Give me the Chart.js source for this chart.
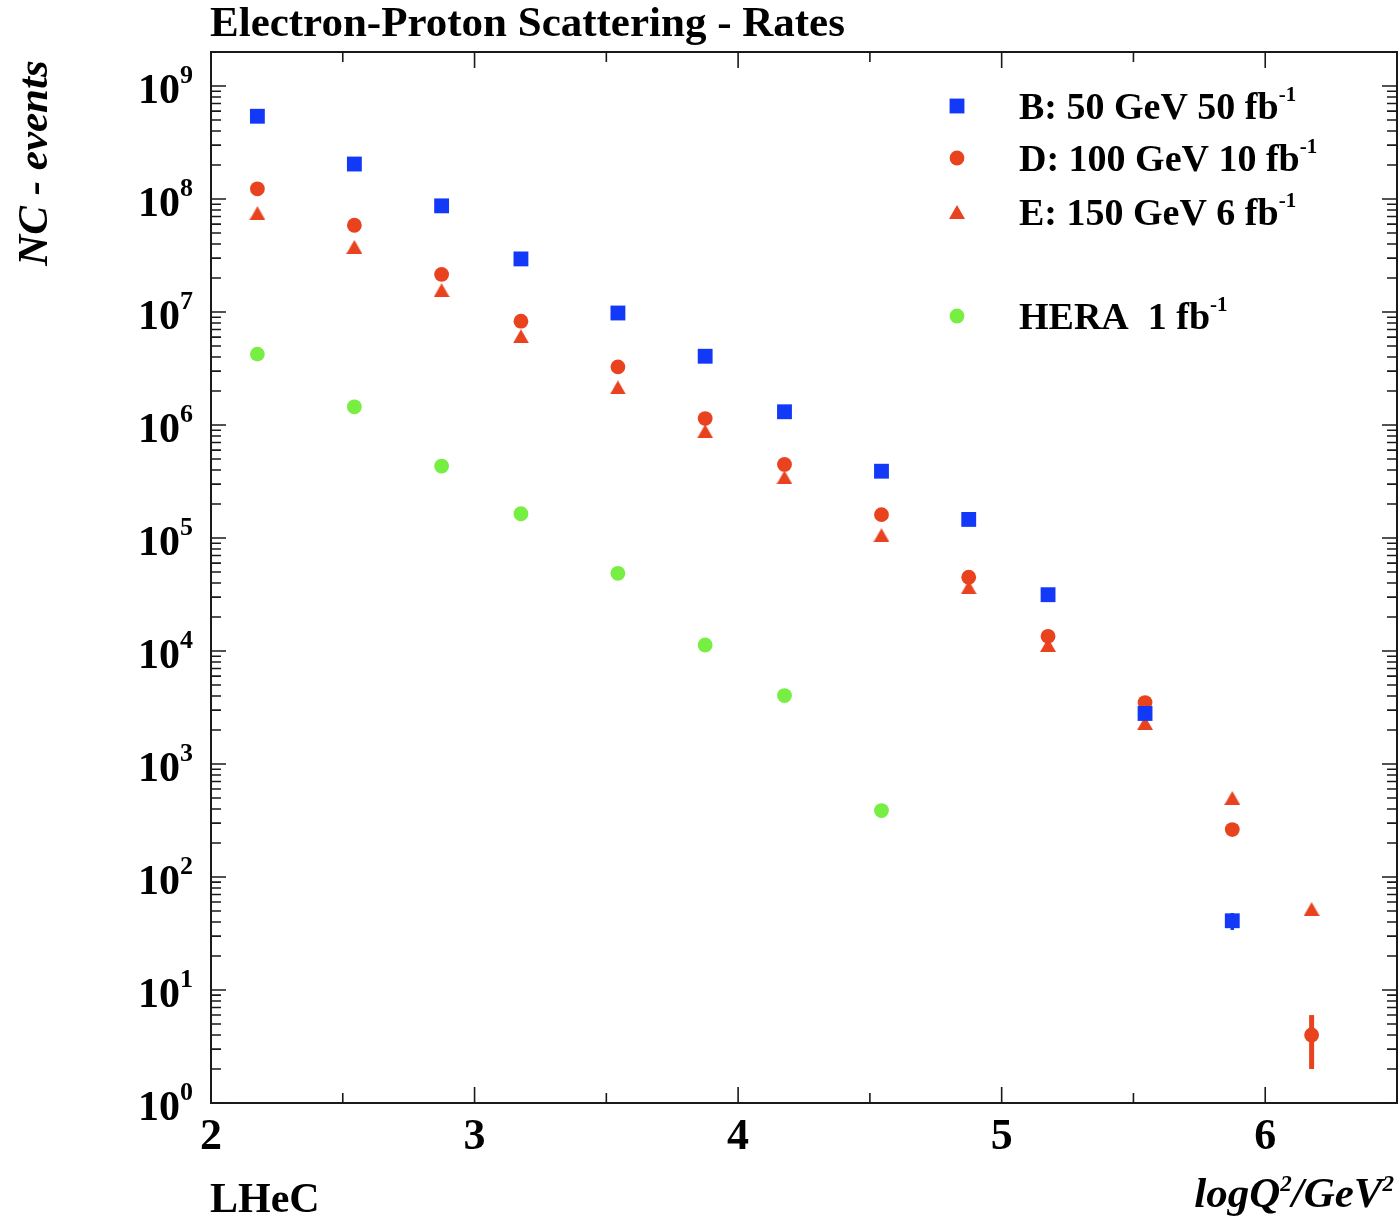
<!DOCTYPE html>
<html>
<head>
<meta charset="utf-8">
<title>Electron-Proton Scattering - Rates</title>
<script src="https://cdn.jsdelivr.net/npm/chart.js@4.4.1/dist/chart.umd.min.js"></script>
<style>
html,body{margin:0;padding:0;background:#fff;overflow:hidden;}
#wrap{width:1400px;height:1228px;position:relative;}
</style>
</head>
<body>
<div id="wrap"><canvas id="ratesChart"></canvas></div>
<script>

// DATA

const logQ2 = [2.176, 2.544, 2.875, 3.176, 3.544, 3.875, 4.176, 4.544, 4.875, 5.176, 5.544, 5.875, 6.176];

const eventsB = [5.4e8, 2.04e8, 8.7e7, 2.95e7, 9.8e6, 4.06e6, 1.31e6, 3.9e5, 1.46e5, 3.15e4, 2.8e3, 41, null];
const eventsD = [1.23e8, 5.86e7, 2.15e7, 8.3e6, 3.27e6, 1.14e6, 4.48e5, 1.61e5, 4.5e4, 1.35e4, 3.5e3, 263, 4];
const eventsE = [7.5e7, 3.77e7, 1.56e7, 6.1e6, 2.15e6, 8.8e5, 3.44e5, 1.06e5, 3.66e4, 1.13e4, 2.3e3, 500, 52];
const eventsHERA = [4.24e6, 1.45e6, 4.33e5, 1.64e5, 4.87e4, 1.13e4, 4.03e3, 387, null, null, null, null, null];

// visible error bars only
const errB = [0, 0, 0, 0, 0, 0, 0, 0, 0, 0, 0, 7, 0];
const errD = [0, 0, 0, 0, 0, 0, 0, 0, 0, 0, 0, 0, 2];

const seriesNames = ["B: 50 GeV 50 fb", "D: 100 GeV 10 fb", "E: 150 GeV 6 fb", "HERA  1 fb"];
const seriesSup = ["-1", "-1", "-1", "-1"];

const xMajorTicks = [2, 3, 4, 5, 6];
const xMinorTicks = [2.5, 3.5, 4.5, 5.5];
const yDecades = [0, 1, 2, 3, 4, 5, 6, 7, 8, 9];

const BLUE = "#1238f8";
const RED = "#e8421f";
const GREEN = "#76ee42";
const serif = '"Liberation Serif", "Times New Roman", serif';


function toPoints(vals){
return logQ2.map((x,i)=>({x:x, y:vals[i]})).filter(p=>p.y!==null);
}

function makeTriangle(color){
const c = document.createElement("canvas");
c.width = 16;
c.height = 14;
const g = c.getContext("2d");
g.fillStyle = color;
g.beginPath();
g.moveTo(8,0);
g.lineTo(16,14);
g.lineTo(0,14);
g.closePath();
g.fill();
return c;
}

const triangle = makeTriangle(RED);

function drawSup(ctx, parts, x, y, align){
let w = 0;
parts.forEach(p=>{ ctx.font = p.font; p.w = ctx.measureText(p.t).width; w += p.w; });
let cx = align==="right" ? x-w : align==="center" ? x-w/2 : x;
ctx.textAlign = "left";
ctx.textBaseline = "alphabetic";
parts.forEach(p=>{ ctx.font = p.font; ctx.fillText(p.t, cx, y+(p.dy||0)); cx += p.w; });
}


// FRAME, TICKS, ERROR BARS, TEXT

const rootStyle = {

id:"rootStyle",

beforeDatasetsDraw(chart){

const ctx = chart.ctx;
const a = chart.chartArea;
const xs = chart.scales.x;
const ys = chart.scales.y;

ctx.save();
ctx.strokeStyle = "#1a1a1a";
ctx.lineWidth = 2;
ctx.strokeRect(a.left, a.top, a.right-a.left, a.bottom-a.top);

ctx.lineWidth = 1.6;
ctx.beginPath();

xMajorTicks.concat(xMinorTicks).forEach(v=>{
const px = xs.getPixelForValue(v);
const len = xMajorTicks.includes(v) ? 16 : 10;
ctx.moveTo(px, a.bottom); ctx.lineTo(px, a.bottom-len);
ctx.moveTo(px, a.top); ctx.lineTo(px, a.top+len);
});

yDecades.forEach(k=>{
for(let m=1;m<=9;m++){
const v = m*Math.pow(10,k);
if(v > ys.max) break;
const py = ys.getPixelForValue(v);
const len = m===1 ? 15 : 10;
ctx.moveTo(a.left, py); ctx.lineTo(a.left+len, py);
ctx.moveTo(a.right, py); ctx.lineTo(a.right-len, py);
}
});

ctx.stroke();

// error bars
chart.data.datasets.forEach(ds=>{
if(!ds.err) return;
ctx.strokeStyle = ds.backgroundColor;
ctx.lineWidth = ds.errWidth;
ds.data.forEach(p=>{
const e = ds.err[logQ2.indexOf(p.x)];
if(!e) return;
const px = xs.getPixelForValue(p.x);
ctx.beginPath();
ctx.moveTo(px, ys.getPixelForValue(p.y-e));
ctx.lineTo(px, ys.getPixelForValue(p.y+e));
ctx.stroke();
});
});

ctx.restore();

},

afterDraw(chart){

const ctx = chart.ctx;
const a = chart.chartArea;
const xs = chart.scales.x;
const ys = chart.scales.y;

ctx.save();
ctx.fillStyle = "#000";

// title
ctx.font = "bold 43px " + serif;
ctx.textAlign = "left";
ctx.textBaseline = "alphabetic";
ctx.fillText("Electron-Proton Scattering - Rates", a.left-1, 36);

// y tick labels
yDecades.forEach(k=>{
const py = ys.getPixelForValue(Math.pow(10,k));
drawSup(ctx, [
{t:"10", font:"bold 42px "+serif},
{t:String(k), font:"bold 26px "+serif, dy:-20}
], a.left-18, py+17, "right");
});

// x tick labels
xMajorTicks.forEach(v=>{
const px = xs.getPixelForValue(v);
drawSup(ctx, [{t:String(v), font:"bold 44px "+serif}], px, a.bottom+46, "center");
});

// y axis title
ctx.save();
ctx.translate(47, 163);
ctx.rotate(-Math.PI/2);
ctx.font = "italic bold 43px " + serif;
ctx.textAlign = "center";
ctx.fillText("NC - events", 0, 0);
ctx.restore();

// x axis title
drawSup(ctx, [
{t:"logQ", font:"italic bold 43px "+serif},
{t:"2", font:"italic bold 23px "+serif, dy:-16},
{t:"/GeV", font:"italic bold 43px "+serif},
{t:"2", font:"italic bold 23px "+serif, dy:-16}
], a.right-3, a.bottom+104, "right");

drawSup(ctx, [{t:"LHeC", font:"bold 42px "+serif}], a.left-1, a.bottom+109, "left");

// legend
const rows = [54, 106, 160, 264];
chart.data.datasets.forEach((ds,i)=>{
const ly = a.top + rows[i];
const lx = a.left + 746;
ctx.fillStyle = ds.backgroundColor;
Chart.helpers.drawPoint(ctx, {pointStyle:ds.pointStyle, radius:ds.pointRadius, rotation:0, borderWidth:0}, lx, ly);
ctx.fillStyle = "#000";
drawSup(ctx, [
{t:seriesNames[i], font:"bold 38px "+serif},
{t:seriesSup[i], font:"bold 21px "+serif, dy:-18}
], lx+62, ly+12.6, "left");
});

ctx.restore();

}

};


// CHART

new Chart(document.getElementById("ratesChart"),{

type:"scatter",

data:{
datasets:[
{
label:seriesNames[0],
data:toPoints(eventsB),
err:errB,
errWidth:3.5,
backgroundColor:BLUE,
borderColor:BLUE,
pointStyle:"rect",
pointRadius:10.5,
borderWidth:0
},
{
label:seriesNames[1],
data:toPoints(eventsD),
err:errD,
errWidth:5,
backgroundColor:RED,
borderColor:RED,
pointStyle:"circle",
pointRadius:7.4,
borderWidth:0
},
{
label:seriesNames[2],
data:toPoints(eventsE),
backgroundColor:RED,
borderColor:RED,
pointStyle:triangle,
pointRadius:8,
borderWidth:0
},
{
label:seriesNames[3],
data:toPoints(eventsHERA),
backgroundColor:GREEN,
borderColor:GREEN,
pointStyle:"circle",
pointRadius:7.4,
borderWidth:0
}
]
},

options:{
responsive:true,
maintainAspectRatio:false,
animation:false,
events:[],
layout:{autoPadding:false, padding:{left:211, right:3, top:52, bottom:125}},
plugins:{
legend:{display:false},
tooltip:{enabled:false},
title:{display:false}
},
scales:{
x:{type:"linear", min:2, max:6.5, display:false},
y:{type:"logarithmic", min:1, max:2e9, display:false}
}
},

plugins:[rootStyle]

});

</script>
</body>
</html>
